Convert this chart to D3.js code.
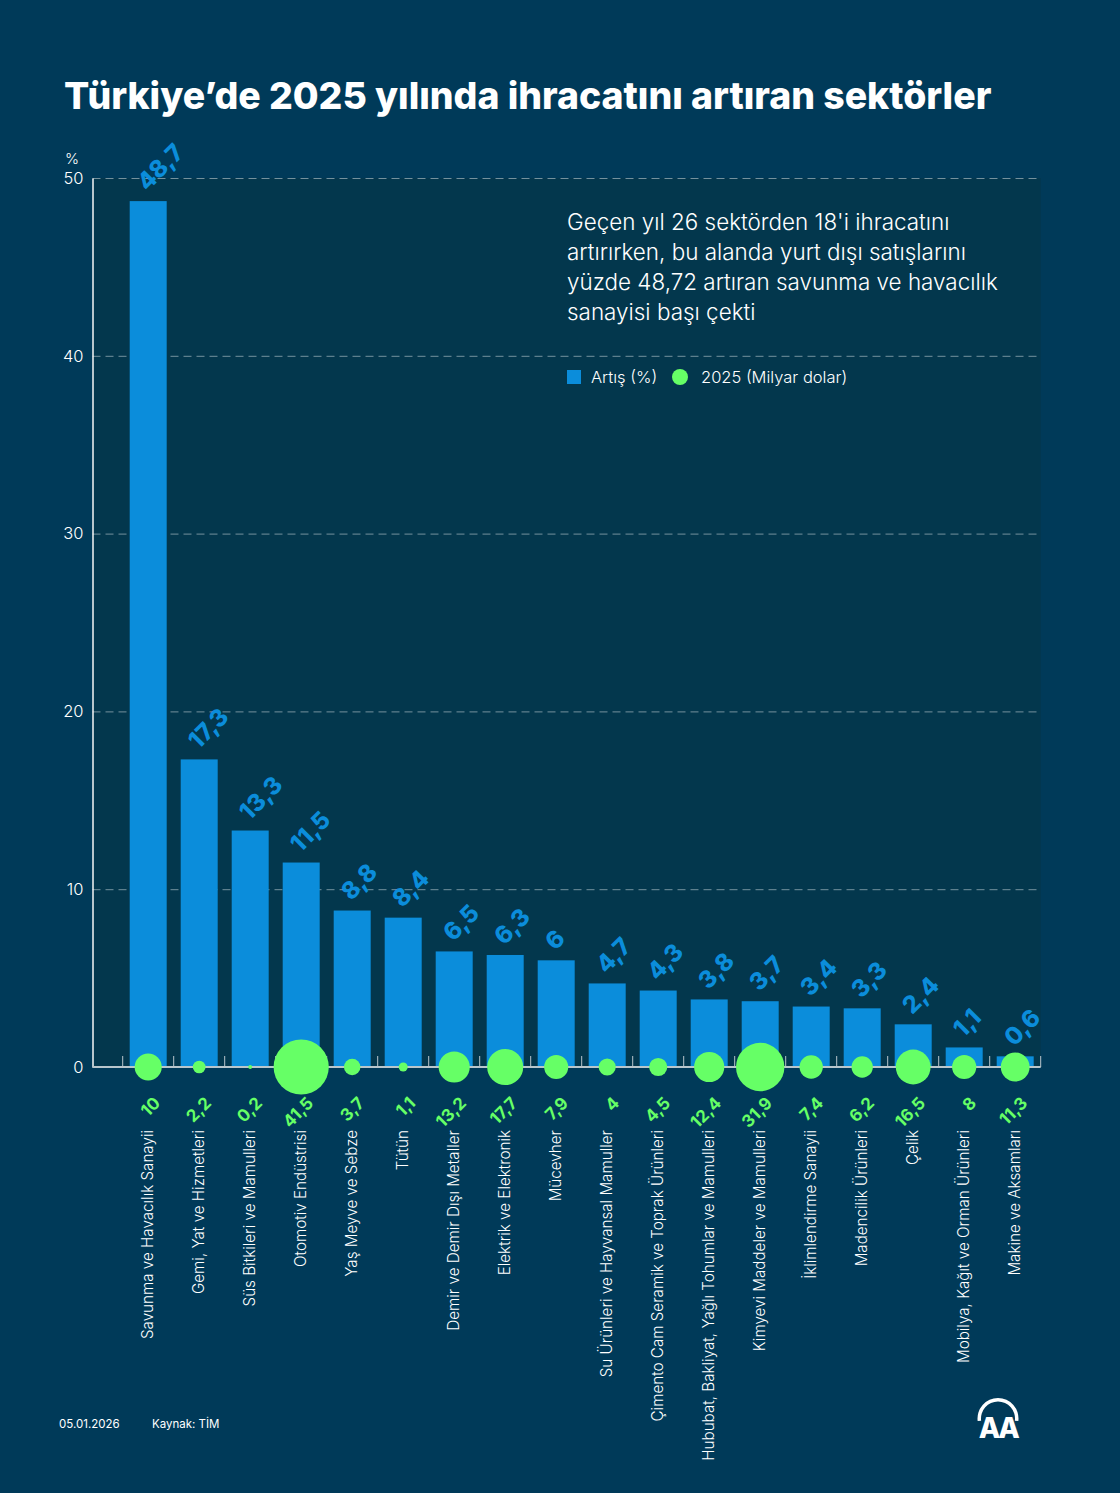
<!DOCTYPE html>
<meta charset="utf-8">
<style>

body {
  margin: 0;
  background: #003a59;
}

svg {
  display: block;
}

text {
  font-family: Inter, sans-serif;
  fill: #fff;
}

.title {
  font-size: 37.4px;
  font-weight: 800;
}

.y-axis text {
  font-size: 16.5px;
  font-weight: 300;
  font-family: Inter, sans-serif;
}

.y-axis .domain {
  stroke: #b9c6cc;
  stroke-width: 2px;
}

.y-axis .tick line {
  stroke: #fff;
  stroke-opacity: 0.45;
  stroke-dasharray: 8 5;
}

.note {
  font-size: 22.45px;
  font-weight: 300;
}

.legend {
  font-size: 16.5px;
  font-weight: 300;
}

.cat {
  font-size: 15.2px;
  font-weight: 300;
}

.bar-val {
  font-size: 24px;
  font-weight: 800;
  fill: #0b8ddb;
}

.bub-val {
  font-size: 17px;
  font-weight: 700;
  fill: #66ff66;
}

.foot {
  font-size: 11.5px;
}

</style>

<svg width="1120" height="1493"></svg>
<script src="https://d3js.org/d3.v7.min.js"></script>
<script>

var categories = ["Savunma ve Havacılık Sanayii", "Gemi, Yat ve Hizmetleri", "Süs Bitkileri ve Mamulleri",
  "Otomotiv Endüstrisi", "Yaş Meyve ve Sebze", "Tütün", "Demir ve Demir Dışı Metaller", "Elektrik ve Elektronik",
  "Mücevher", "Su Ürünleri ve Hayvansal Mamuller", "Çimento Cam Seramik ve Toprak Ürünleri",
  "Hububat, Bakliyat, Yağlı Tohumlar ve Mamulleri", "Kimyevi Maddeler ve Mamulleri", "İklimlendirme Sanayii",
  "Madencilik Ürünleri", "Çelik", "Mobilya, Kağıt ve Orman Ürünleri", "Makine ve Aksamları"];
var artis = [48.7, 17.3, 13.3, 11.5, 8.8, 8.4, 6.5, 6.3, 6, 4.7, 4.3, 3.8, 3.7, 3.4, 3.3, 2.4, 1.1, 0.6];
var milyar = [10, 2.2, 0.2, 41.5, 3.7, 1.1, 13.2, 17.7, 7.9, 4, 4.5, 12.4, 31.9, 7.4, 6.2, 16.5, 8, 11.3];
var yTicks = [0, 10, 20, 30, 40, 50];
var noteLines = ["Geçen yıl 26 sektörden 18'i ihracatını", "artırırken, bu alanda yurt dışı satışlarını",
  "yüzde 48,72 artıran savunma ve havacılık", "sanayisi başı çekti"];

var svg = d3.select("svg");
var fmt = function (v) { return String(v).replace(".", ","); };

var x = d3.scaleBand().domain(categories).range([122.7, 1040.7]);
var y = d3.scaleLinear().domain([0, 50]).range([1067, 178]);
var r = d3.scaleSqrt().domain([0, 41.5]).range([0, 27.6]);
var left = 92.5, right = 1040.7;
var barW = 37;

svg.append("text").attr("class", "title").attr("x", 64).attr("y", 109)
  .text("Türkiye’de 2025 yılında ihracatını artıran sektörler");

// darker plot area
svg.append("rect").attr("x", left).attr("y", y(50)).attr("width", right - left).attr("height", y(0) - y(50))
  .attr("fill", "#03374d");

var yAxis = svg.append("g").attr("class", "y-axis").attr("transform", "translate(" + left + ",0)")
  .call(d3.axisLeft(y).tickValues(yTicks).tickSize(-(right - left)).tickSizeOuter(0).tickPadding(9));
yAxis.selectAll(".tick").filter(function (d) { return d === 0; }).select("line").remove();
svg.append("text").attr("x", 65).attr("y", 164).style("font-size", "15px").style("font-weight", 300).text("%");

svg.selectAll(".bar").data(categories).join("rect")
  .attr("class", "bar")
  .attr("x", function (d) { return x(d) + (x.bandwidth() - barW) / 2; })
  .attr("width", barW)
  .attr("y", function (d, i) { return y(artis[i]); })
  .attr("height", function (d, i) { return y(0) - y(artis[i]); })
  .attr("fill", "#0b8ddb");

// baseline with the small band ticks
svg.append("line").attr("x1", left).attr("x2", right).attr("y1", y(0)).attr("y2", y(0))
  .attr("stroke", "#b9c6cc").attr("stroke-width", 2);
svg.selectAll(".band-tick").data(categories.concat(["end"])).join("line")
  .attr("class", "band-tick")
  .attr("x1", function (d, i) { return 122.7 + i * x.step(); })
  .attr("x2", function (d, i) { return 122.7 + i * x.step(); })
  .attr("y1", y(0)).attr("y2", y(0) - 11)
  .attr("stroke", "#b9c6cc");

svg.selectAll(".bubble").data(categories).join("circle")
  .attr("class", "bubble")
  .attr("cx", function (d) { return x(d) + x.bandwidth() / 2; })
  .attr("cy", y(0))
  .attr("r", function (d, i) { return r(milyar[i]); })
  .attr("fill", "#66ff66");

svg.selectAll(".bar-val").data(categories).join("text")
  .attr("class", "bar-val")
  .attr("transform", function (d, i) {
    return "translate(" + (x(d) + x.bandwidth() / 2 - 7) + "," + (y(artis[i]) - 15) + ") rotate(-45)";
  })
  .attr("dy", "0.35em")
  .text(function (d, i) { return fmt(artis[i]); });

svg.selectAll(".bub-val").data(categories).join("text")
  .attr("class", "bub-val")
  .attr("text-anchor", "end")
  .attr("transform", function (d) {
    return "translate(" + (x(d) + x.bandwidth() / 2 + 9) + ",1100) rotate(-45)";
  })
  .attr("dy", "0.35em")
  .text(function (d, i) { return fmt(milyar[i]); });

svg.selectAll(".cat").data(categories).join("text")
  .attr("class", "cat")
  .attr("text-anchor", "end")
  .attr("transform", function (d) {
    return "translate(" + (x(d) + x.bandwidth() / 2 + 5) + ",1130) rotate(-90)";
  })
  .text(function (d) { return d; });

svg.selectAll(".note").data(noteLines).join("text")
  .attr("class", "note")
  .attr("x", 567)
  .attr("y", function (d, i) { return 230 + i * 30; })
  .text(function (d) { return d; });

// legend
svg.append("rect").attr("x", 567).attr("y", 370).attr("width", 14).attr("height", 14).attr("fill", "#0b8ddb");
svg.append("text").attr("class", "legend").attr("x", 591).attr("y", 383).text("Artış (%)");
svg.append("circle").attr("cx", 680).attr("cy", 377).attr("r", 8).attr("fill", "#66ff66");
svg.append("text").attr("class", "legend").attr("x", 701).attr("y", 383).text("2025 (Milyar dolar)");

// footer
svg.append("text").attr("class", "foot").attr("x", 59).attr("y", 1428).text("05.01.2026");
svg.append("text").attr("class", "foot").attr("x", 152).attr("y", 1428).text("Kaynak: TİM");

// AA logo
var logo = svg.append("g").attr("transform", "translate(998,1418.5)");
logo.append("path")
  .attr("d", d3.arc().innerRadius(17).outerRadius(20.5).startAngle(-Math.PI * 0.54).endAngle(Math.PI * 0.54)())
  .attr("fill", "#fff");
logo.append("text").attr("text-anchor", "middle").attr("y", 19.5)
  .style("font-size", "28px").style("font-weight", "800").style("letter-spacing", "-2.5px").text("AA");

</script>
